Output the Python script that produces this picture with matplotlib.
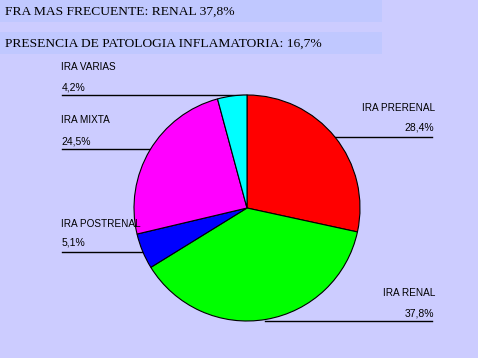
import matplotlib

matplotlib.use("Agg")
import matplotlib.pyplot as plt
import numpy as np

# data
labels = ["IRA PRERENAL", "IRA RENAL", "IRA POSTRENAL", "IRA MIXTA", "IRA VARIAS"]
values = [28.4, 37.8, 5.1, 24.5, 4.2]
pct_text = ["28,4%", "37,8%", "5,1%", "24,5%", "4,2%"]
colors = ["#FF0000", "#00FF00", "#0000FF", "#FF00FF", "#00FFFF"]
header_lines = ["FRA MAS FRECUENTE: RENAL 37,8%",
                "PRESENCIA DE PATOLOGIA INFLAMATORIA: 16,7%"]

W, H = 478, 358
BG = "#CCCCFF"
BOX = "#C0C8FF"

fig = plt.figure(figsize=(W / 100, H / 100), dpi=100, facecolor=BG)
ax = fig.add_axes([0, 0, 1, 1])
ax.set_xlim(0, W)
ax.set_ylim(0, H)
ax.set_aspect("equal")
ax.axis("off")
ax.set_facecolor(BG)


def py(y):
    # pixel y (top-down) -> data y
    return H - y


# header boxes
for (top, bot), txt, base in zip([(0, 22), (32, 54)], header_lines, [15, 46.5]):
    ax.add_patch(plt.Rectangle((0, py(bot)), 382, bot - top, facecolor=BOX,
                               edgecolor="none", zorder=1))
    ax.text(5, py(base), txt, fontsize=9.7, family="Liberation Serif",
            va="baseline", ha="left", zorder=3)

# pie
cx, cy, r = 247, py(208), 113
ax.pie(values, colors=colors, startangle=90, counterclock=False,
       center=(cx, cy), radius=r, frame=True,
       wedgeprops=dict(edgecolor="black", linewidth=0.8))
ax.set_xlim(0, W)
ax.set_ylim(0, H)
ax.axis("off")

# label layout: (name baseline, pct baseline, line y, side)
layout = {
    "IRA PRERENAL": (110.7, 130.7, 136.7, "right"),
    "IRA RENAL": (296, 316, 320.7, "right"),
    "IRA POSTRENAL": (226.7, 245.7, 252.3, "left"),
    "IRA MIXTA": (123.3, 144, 149.3, "left"),
    "IRA VARIAS": (70, 90, 95.3, "left"),
}

for name, pct in zip(labels, pct_text):
    yn, yp, yl, side = layout[name]
    dy = py(yl) - cy
    dx = np.sqrt(max(r * r - dy * dy, 0))
    if side == "left":
        x0, x1 = 62, cx - dx
        tx, ha = 61.5, "left"
        if name == "IRA VARIAS":
            x1 = cx
    else:
        x0, x1 = cx + dx, 432
        tx, ha = 435, "right"
        if name == "IRA RENAL":
            x0 = cx + 18
    ax.plot([x0, x1], [py(yl), py(yl)], color="black", linewidth=1.0, zorder=0.5)
    ax.text(tx, py(yn), name, fontsize=7.2, family="Liberation Sans",
            ha=ha, va="baseline")
    ax.text(tx - (1 if side == "right" else 0), py(yp), pct, fontsize=7.5,
            family="Liberation Sans", ha=ha, va="baseline")

fig.savefig("out.png", dpi=100, facecolor=BG)
